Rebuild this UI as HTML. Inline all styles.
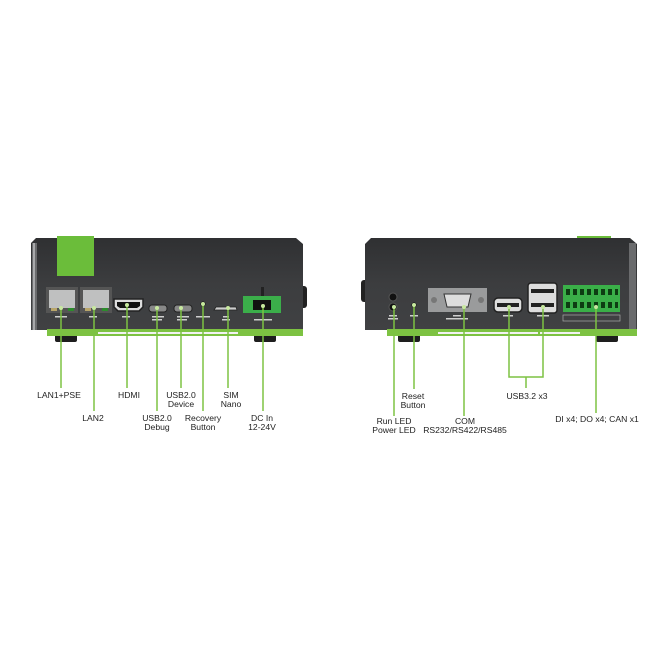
<!DOCTYPE html>
<html><head><style>
html,body{margin:0;padding:0;background:#fff;}
svg text{font-family:"Liberation Sans",sans-serif;font-size:8.6px;fill:#222;text-anchor:middle;}
</style></head><body>
<svg width="667" height="667" viewBox="0 0 667 667" xmlns="http://www.w3.org/2000/svg">
<defs>
<linearGradient id="bd" x1="0" y1="0" x2="0" y2="1">
<stop offset="0" stop-color="#2f3032"/><stop offset="0.5" stop-color="#3c3d3f"/><stop offset="1" stop-color="#404143"/>
</linearGradient>
</defs>
<!-- LEFT DEVICE -->
<rect x="55" y="334" width="22" height="8" rx="2" fill="#1e1e1e"/>
<rect x="254" y="334" width="22" height="8" rx="2" fill="#1e1e1e"/>
<rect x="300" y="286" width="7" height="22" rx="3" fill="#222"/>
<path d="M36 238 L296 238 L303 244 L303 330 L31 330 L31 243 Z" fill="url(#bd)"/>
<rect x="32" y="243" width="5" height="87" fill="#6a6b6d"/>
<rect x="33" y="243" width="2" height="87" fill="#a8a9ab"/>
<rect x="47" y="329" width="256" height="7" fill="#7dc242"/>
<rect x="98" y="332" width="140" height="2" fill="#f2f2f2"/>
<rect x="57" y="236" width="37" height="40" fill="#6bbd3a"/>
<!-- LAN -->
<rect x="46" y="287" width="32" height="26" fill="#555"/><rect x="49" y="290" width="26" height="18" fill="#bfc0c0"/>
<rect x="51" y="308" width="6" height="3" fill="#b9a66a"/><rect x="68" y="308" width="6" height="3" fill="#2c8c2c"/>
<rect x="80" y="287" width="32" height="26" fill="#555"/><rect x="83" y="290" width="26" height="18" fill="#bfc0c0"/>
<rect x="85" y="308" width="6" height="3" fill="#b9a66a"/><rect x="102" y="308" width="6" height="3" fill="#2c8c2c"/>
<path d="M114 299 L143 299 L143 307 L139 311 L118 311 L114 307 Z" fill="#ddd" stroke="#222" stroke-width="1.5"/>
<path d="M117 302 L140 302 L140 306 L137 308 L120 308 L117 306 Z" fill="#111"/>
<rect x="149" y="305" width="18" height="7" rx="3" fill="#888" stroke="#222"/>
<rect x="174" y="305" width="18" height="7" rx="3" fill="#888" stroke="#222"/>
<circle cx="203" cy="304" r="2.5" fill="#111"/>
<path d="M214 310 L237 310 L236 307 L216 307 Z" fill="#ccc" stroke="#222" stroke-width="0.8"/>
<rect x="261" y="287" width="3" height="10" fill="#222"/>
<rect x="243" y="296" width="38" height="17" fill="#3bae4a"/>
<rect x="253" y="300" width="18" height="10" fill="#111"/>
<g fill="#cfcfcf" font-size="3"><rect x="55" y="316" width="12" height="1.5"/><rect x="89" y="316" width="8" height="1.5"/><rect x="122" y="316" width="8" height="1.5"/><rect x="152" y="316" width="12" height="1.5"/><rect x="152" y="319" width="10" height="1.5"/><rect x="177" y="316" width="12" height="1.5"/><rect x="177" y="319" width="10" height="1.5"/><rect x="196" y="316" width="14" height="1.5"/><rect x="223" y="316" width="6" height="1.5"/><rect x="222" y="319" width="8" height="1.5"/><rect x="254" y="319" width="18" height="1.5"/></g>
<!-- left connectors -->
<g stroke="#7dc242" stroke-width="1.5" fill="none">
<line x1="61" y1="308" x2="61" y2="388"/>
<line x1="94" y1="308" x2="94" y2="411"/>
<line x1="127" y1="305" x2="127" y2="388"/>
<line x1="157" y1="308" x2="157" y2="411"/>
<line x1="181" y1="308" x2="181" y2="388"/>
<line x1="203" y1="304" x2="203" y2="411"/>
<line x1="228" y1="308" x2="228" y2="388"/>
<line x1="263" y1="306" x2="263" y2="411"/>
</g>
<g fill="#c7e89f"><circle cx="61" cy="308" r="2"/><circle cx="94" cy="308" r="2"/><circle cx="127" cy="305" r="2"/><circle cx="157" cy="308" r="2"/><circle cx="181" cy="308" r="2"/><circle cx="203" cy="304" r="2"/><circle cx="228" cy="308" r="2"/><circle cx="263" cy="306" r="2"/></g>
<text x="59" y="398">LAN1+PSE</text>
<text x="93" y="421">LAN2</text>
<text x="129" y="398">HDMI</text>
<text x="157" y="421">USB2.0</text><text x="157" y="430">Debug</text>
<text x="181" y="398">USB2.0</text><text x="181" y="407">Device</text>
<text x="203" y="421">Recovery</text><text x="203" y="430">Button</text>
<text x="231" y="398">SIM</text><text x="231" y="407">Nano</text>
<text x="262" y="421">DC In</text><text x="262" y="430">12-24V</text>

<!-- RIGHT DEVICE -->
<rect x="398" y="334" width="22" height="8" rx="2" fill="#1e1e1e"/>
<rect x="596" y="334" width="22" height="8" rx="2" fill="#1e1e1e"/>
<rect x="361" y="280" width="7" height="22" rx="3" fill="#222"/>
<rect x="577" y="236" width="34" height="4" fill="#6bbd3a"/>
<path d="M371 238 L630 238 L637 244 L637 330 L365 330 L365 244 Z" fill="url(#bd)"/>
<rect x="629" y="243" width="7" height="87" fill="#6a6b6d"/>
<rect x="387" y="329" width="250" height="7" fill="#7dc242"/>
<rect x="438" y="332" width="100" height="2" fill="#f2f2f2"/>
<rect x="540" y="332" width="40" height="2" fill="#f2f2f2"/>
<circle cx="393" cy="297" r="4" fill="#111" stroke="#555"/>
<circle cx="393" cy="307" r="4" fill="#111" stroke="#555"/>
<circle cx="414" cy="305" r="2.5" fill="#111"/>
<rect x="428" y="288" width="59" height="24" fill="#9a9b9c"/>
<circle cx="434" cy="300" r="3" fill="#777"/><circle cx="481" cy="300" r="3" fill="#777"/>
<path d="M444 294 L471 294 L468 307 L447 307 Z" fill="#ddd" stroke="#333"/>
<rect x="494" y="298" width="28" height="14" rx="4" fill="#ddd" stroke="#222" stroke-width="1.5"/>
<rect x="497" y="303" width="22" height="4" fill="#222"/>
<rect x="528" y="283" width="29" height="30" rx="3" fill="#ddd" stroke="#222" stroke-width="1.5"/>
<rect x="531" y="289" width="23" height="4" fill="#222"/><rect x="531" y="303" width="23" height="4" fill="#222"/>
<rect x="563" y="285" width="57" height="27" fill="#3aaf48"/>
<g fill="#0d3d12">
<rect x="566" y="289" width="4" height="6"/><rect x="573" y="289" width="4" height="6"/><rect x="580" y="289" width="4" height="6"/><rect x="587" y="289" width="4" height="6"/><rect x="594" y="289" width="4" height="6"/><rect x="601" y="289" width="4" height="6"/><rect x="608" y="289" width="4" height="6"/><rect x="615" y="289" width="3" height="6"/>
<rect x="566" y="302" width="4" height="6"/><rect x="573" y="302" width="4" height="6"/><rect x="580" y="302" width="4" height="6"/><rect x="587" y="302" width="4" height="6"/><rect x="594" y="302" width="4" height="6"/><rect x="601" y="302" width="4" height="6"/><rect x="608" y="302" width="4" height="6"/><rect x="615" y="302" width="3" height="6"/>
</g>
<rect x="563" y="315" width="57" height="6" fill="none" stroke="#aaa" stroke-width="0.7"/>
<g fill="#cfcfcf"><rect x="389" y="315" width="8" height="1.5"/><rect x="388" y="318" width="10" height="1.5"/><rect x="410" y="315" width="8" height="1.5"/><rect x="453" y="315" width="8" height="1.5"/><rect x="446" y="318" width="22" height="1.5"/><rect x="503" y="315" width="10" height="1.5"/><rect x="537" y="315" width="12" height="1.5"/></g>
<g stroke="#7dc242" stroke-width="1.5" fill="none">
<line x1="394" y1="307" x2="394" y2="416"/>
<line x1="414" y1="305" x2="414" y2="389"/>
<line x1="464" y1="307" x2="464" y2="416"/>
<polyline points="509,307 509,377 543,377 543,307"/>
<line x1="526" y1="377" x2="526" y2="388"/>
<line x1="596" y1="307" x2="596" y2="413"/>
</g>
<g fill="#c7e89f"><circle cx="394" cy="307" r="2"/><circle cx="414" cy="305" r="2"/><circle cx="464" cy="307" r="2"/><circle cx="509" cy="307" r="2"/><circle cx="543" cy="307" r="2"/><circle cx="596" cy="307" r="2"/></g>
<text x="413" y="399">Reset</text><text x="413" y="408">Button</text>
<text x="394" y="424">Run LED</text><text x="394" y="433">Power LED</text>
<text x="465" y="424">COM</text><text x="465" y="433">RS232/RS422/RS485</text>
<text x="527" y="399">USB3.2 x3</text>
<text x="597" y="422">DI x4; DO x4; CAN x1</text>
</svg>
</body></html>
